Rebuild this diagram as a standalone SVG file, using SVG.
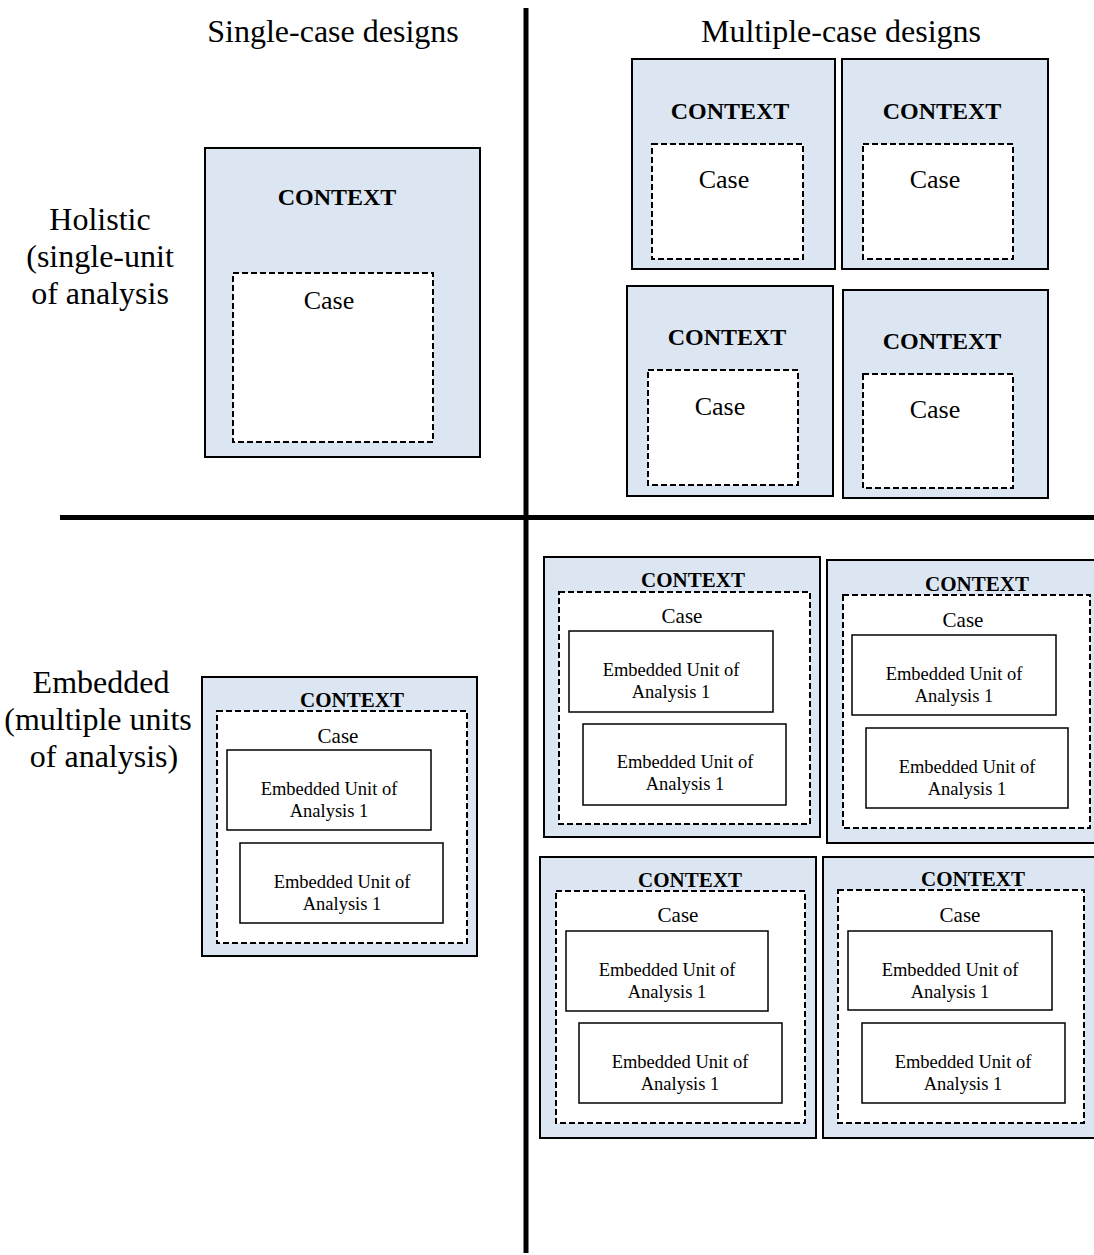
<svg xmlns="http://www.w3.org/2000/svg" width="1094" height="1255" viewBox="0 0 1094 1255">
  <style>
    text { font-family: "Liberation Serif", "Times New Roman", serif; fill: #000; text-anchor: middle; }
    .ctx { fill: #dce6f2; stroke: #000; stroke-width: 2; }
    .case { fill: #fff; stroke: #000; stroke-width: 2; stroke-dasharray: 6 3; }
    .unit { fill: #fff; stroke: #000; stroke-width: 1.5; }
    .axis { stroke: #000; stroke-width: 5; }
    .head { font-size: 32px; }
    .lbl { font-size: 24px; font-weight: bold; }
    .lblS { font-size: 21px; font-weight: bold; }
    .caseT { font-size: 26px; }
    .caseS { font-size: 21px; }
    .unitT { font-size: 18.5px; }
  </style>

  <!-- quadrant dividers -->
  <g id="connectors">
    <line class="axis" x1="526" y1="8" x2="526" y2="1253"/>
    <line class="axis" x1="60" y1="517.5" x2="1094" y2="517.5"/>
  </g>

  <!-- headings -->
  <g id="headings">
    <text class="head" x="333" y="42">Single-case designs</text>
    <text class="head" x="841" y="42">Multiple-case designs</text>
    <text class="head" x="100" y="230">Holistic</text>
    <text class="head" x="100" y="267">(single-unit</text>
    <text class="head" x="100" y="304">of analysis</text>
    <text class="head" x="101" y="693">Embedded</text>
    <text class="head" x="98" y="730">(multiple units</text>
    <text class="head" x="104" y="767">of analysis)</text>
  </g>

  <!-- holistic single case -->
  <g id="holistic-single">
    <rect class="ctx" x="205" y="148" width="275" height="309"/>
    <text class="lbl" x="337" y="205">CONTEXT</text>
    <rect class="case" x="233" y="273" width="200" height="169"/>
    <text class="caseT" x="329" y="309">Case</text>
  </g>

  <!-- holistic multiple cases -->
  <g id="holistic-multi-1">
    <rect class="ctx" x="632" y="59" width="203" height="210"/>
    <text class="lbl" x="730" y="119">CONTEXT</text>
    <rect class="case" x="652" y="144" width="151" height="115"/>
    <text class="caseT" x="724" y="188">Case</text>
  </g>
  <g id="holistic-multi-2">
    <rect class="ctx" x="842" y="59" width="206" height="210"/>
    <text class="lbl" x="942" y="119">CONTEXT</text>
    <rect class="case" x="863" y="144" width="150" height="115"/>
    <text class="caseT" x="935" y="188">Case</text>
  </g>
  <g id="holistic-multi-3">
    <rect class="ctx" x="627" y="286" width="206" height="210"/>
    <text class="lbl" x="727" y="345">CONTEXT</text>
    <rect class="case" x="648" y="370" width="150" height="115"/>
    <text class="caseT" x="720" y="415">Case</text>
  </g>
  <g id="holistic-multi-4">
    <rect class="ctx" x="843" y="290" width="205" height="208"/>
    <text class="lbl" x="942" y="349">CONTEXT</text>
    <rect class="case" x="863" y="374" width="150" height="114"/>
    <text class="caseT" x="935" y="418">Case</text>
  </g>

  <!-- embedded single case -->
  <g id="embedded-single">
    <rect class="ctx" x="202" y="677" width="275" height="279"/>
    <rect class="case" x="217" y="711" width="250" height="232"/>
    <text class="lblS" x="352" y="707">CONTEXT</text>
    <text class="caseS" x="338" y="743">Case</text>
    <rect class="unit" x="227" y="750" width="204" height="80"/>
    <text class="unitT" x="329" y="795">Embedded Unit of</text>
    <text class="unitT" x="329" y="817">Analysis 1</text>
    <rect class="unit" x="240" y="843" width="203" height="80"/>
    <text class="unitT" x="342" y="888">Embedded Unit of</text>
    <text class="unitT" x="342" y="910">Analysis 1</text>
  </g>

  <!-- embedded multiple cases -->
  <g id="embedded-multi-1">
    <rect class="ctx" x="544" y="557" width="276" height="280"/>
    <rect class="case" x="559" y="592" width="251" height="232"/>
    <text class="lblS" x="693" y="587">CONTEXT</text>
    <text class="caseS" x="682" y="623">Case</text>
    <rect class="unit" x="569" y="631" width="204" height="81"/>
    <text class="unitT" x="671" y="676">Embedded Unit of</text>
    <text class="unitT" x="671" y="698">Analysis 1</text>
    <rect class="unit" x="583" y="724" width="203" height="81"/>
    <text class="unitT" x="685" y="768">Embedded Unit of</text>
    <text class="unitT" x="685" y="790">Analysis 1</text>
  </g>
  <g id="embedded-multi-2">
    <rect class="ctx" x="827" y="560" width="270" height="283"/>
    <rect class="case" x="843" y="595" width="247" height="233"/>
    <text class="lblS" x="977" y="591">CONTEXT</text>
    <text class="caseS" x="963" y="627">Case</text>
    <rect class="unit" x="852" y="635" width="204" height="80"/>
    <text class="unitT" x="954" y="680">Embedded Unit of</text>
    <text class="unitT" x="954" y="702">Analysis 1</text>
    <rect class="unit" x="866" y="728" width="202" height="80"/>
    <text class="unitT" x="967" y="773">Embedded Unit of</text>
    <text class="unitT" x="967" y="795">Analysis 1</text>
  </g>
  <g id="embedded-multi-3">
    <rect class="ctx" x="540" y="857" width="276" height="281"/>
    <rect class="case" x="556" y="891" width="249" height="232"/>
    <text class="lblS" x="690" y="887">CONTEXT</text>
    <text class="caseS" x="678" y="922">Case</text>
    <rect class="unit" x="566" y="931" width="202" height="80"/>
    <text class="unitT" x="667" y="976">Embedded Unit of</text>
    <text class="unitT" x="667" y="998">Analysis 1</text>
    <rect class="unit" x="579" y="1023" width="203" height="80"/>
    <text class="unitT" x="680" y="1068">Embedded Unit of</text>
    <text class="unitT" x="680" y="1090">Analysis 1</text>
  </g>
  <g id="embedded-multi-4">
    <rect class="ctx" x="823" y="857" width="274" height="281"/>
    <rect class="case" x="838" y="890" width="246" height="233"/>
    <text class="lblS" x="973" y="886">CONTEXT</text>
    <text class="caseS" x="960" y="922">Case</text>
    <rect class="unit" x="848" y="931" width="204" height="79"/>
    <text class="unitT" x="950" y="976">Embedded Unit of</text>
    <text class="unitT" x="950" y="998">Analysis 1</text>
    <rect class="unit" x="862" y="1023" width="203" height="80"/>
    <text class="unitT" x="963" y="1068">Embedded Unit of</text>
    <text class="unitT" x="963" y="1090">Analysis 1</text>
  </g>
</svg>
